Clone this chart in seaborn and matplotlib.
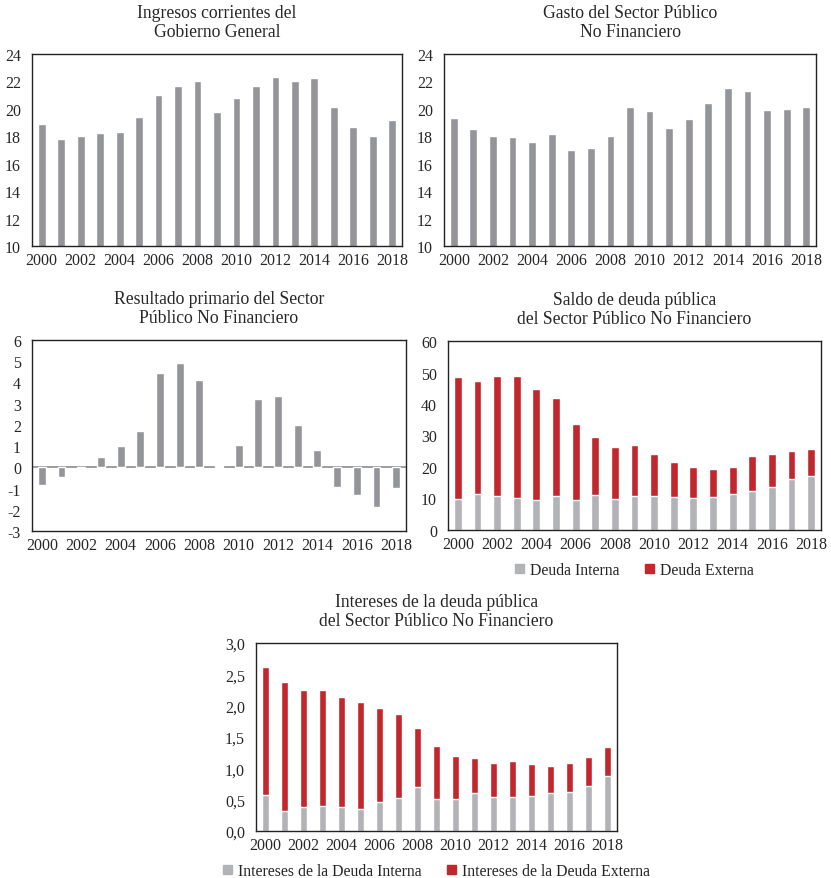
import numpy as np
import matplotlib.pyplot as plt
import seaborn as sns
from matplotlib.patches import Patch
from matplotlib.ticker import FuncFormatter

# data (% of GDP)
years = list(range(2000, 2019))
ingresos = [18.9, 17.8, 18.0, 18.25, 18.3, 19.4, 21.0, 21.7, 22.0, 19.8, 20.8,
            21.7, 22.3, 22.05, 22.25, 20.1, 18.65, 18.05, 19.2]
gasto = [19.3, 18.55, 18.05, 17.95, 17.6, 18.2, 17.0, 17.15, 18.05, 20.1, 19.85,
         18.6, 19.25, 20.45, 21.55, 21.3, 19.9, 20.0, 20.15]
resultado = [-0.83, -0.47, -0.05, 0.47, 1.0, 1.72, 4.43, 4.9, 4.12, 0.05, 1.03,
             3.23, 3.36, 1.98, 0.8, -0.91, -1.3, -1.85, -0.99]
deuda_interna = [10.0, 11.3, 10.8, 10.3, 9.4, 10.8, 9.4, 11.0, 10.0, 10.8, 10.8,
                 10.5, 10.3, 10.5, 11.3, 12.4, 13.8, 16.3, 17.2]
deuda_externa = [38.6, 36.1, 38.2, 38.7, 35.4, 31.0, 24.4, 18.5, 16.3, 16.2, 13.2,
                 11.1, 9.7, 9.0, 8.7, 11.1, 10.2, 8.8, 8.6]
int_interna = [0.58, 0.32, 0.39, 0.40, 0.39, 0.35, 0.46, 0.53, 0.70, 0.51, 0.51,
               0.61, 0.55, 0.55, 0.56, 0.61, 0.63, 0.72, 0.87]
int_externa = [2.03, 2.05, 1.86, 1.85, 1.75, 1.71, 1.51, 1.34, 0.95, 0.84, 0.68,
               0.55, 0.53, 0.56, 0.51, 0.43, 0.45, 0.46, 0.47]

GRAY = "#939598"
LGRAY = "#b1b3b6"
RED = "#c1272d"

sns.set_style("white")
plt.rcParams["font.family"] = ["Liberation Serif", "DejaVu Serif"]
plt.rcParams["axes.unicode_minus"] = False

W, H = 831, 879
fig = plt.figure(figsize=(W / 100, H / 100), dpi=100)


def make_ax(l, t, r, b):
    return fig.add_axes([l / W, 1 - b / H, (r - l) / W, (b - t) / H])


def style(ax, title, ylim, step):
    ax.set_ylim(*ylim)
    ax.set_yticks(np.arange(ylim[0], ylim[1] + step / 2, step))
    ax.set_xlim(-0.5, 18.5)
    ax.set_xticks(range(0, 19, 2))
    ax.set_xticklabels([str(y) for y in years[::2]])
    ax.set_xlabel("")
    ax.set_ylabel("")
    ax.tick_params(length=0, labelsize=11.5, pad=4)
    ax.tick_params(axis="y", pad=8)
    for s in ax.spines.values():
        s.set_color("#222222")
        s.set_linewidth(1.0)
    ax.set_title(title, fontsize=12.7, linespacing=1.15, pad=13)


def add_legend(ax, labels):
    ax.legend(handles=[Patch(color=LGRAY, label=labels[0]),
                       Patch(color=RED, label=labels[1])],
              loc="upper center", bbox_to_anchor=(0.5, -0.12), ncol=2, frameon=False,
              handlelength=0.55, handleheight=0.55, handletextpad=0.4,
              columnspacing=1.6, fontsize=11.3, borderaxespad=0.2)


# 1 - ingresos
ax1 = make_ax(32, 55, 402, 247)
sns.barplot(x=years, y=ingresos, color=GRAY, saturation=1, width=0.4, ax=ax1)
style(ax1, "Ingresos corrientes del\nGobierno General", (10, 24), 2)

# 2 - gasto
ax2 = make_ax(444, 55, 816, 247)
sns.barplot(x=years, y=gasto, color=GRAY, saturation=1, width=0.4, ax=ax2)
style(ax2, "Gasto del Sector Público\nNo Financiero", (10, 24), 2)

# 3 - resultado primario
ax3 = make_ax(32, 341, 406, 532)
sns.barplot(x=years, y=resultado, color=GRAY, saturation=1, width=0.4, ax=ax3)
ax3.axhline(0, color="#8a8c8e", lw=1.2, zorder=0.5)
style(ax3, "Resultado primario del Sector\nPúblico No Financiero", (-3, 6), 1)

# 4 - saldo de deuda
ax4 = make_ax(448, 342, 821, 531)
total4 = np.array(deuda_interna) + np.array(deuda_externa)
sns.barplot(x=years, y=total4, color=RED, saturation=1, width=0.4, ax=ax4)
sns.barplot(x=years, y=deuda_interna, color=LGRAY, saturation=1, width=0.4, ax=ax4)
style(ax4, "Saldo de deuda pública\ndel Sector Público No Financiero", (0, 60), 10)
add_legend(ax4, ["Deuda Interna", "Deuda Externa"])

# 5 - intereses
ax5 = make_ax(256, 644, 617, 832)
total5 = np.array(int_interna) + np.array(int_externa)
sns.barplot(x=years, y=total5, color=RED, saturation=1, width=0.4, ax=ax5)
sns.barplot(x=years, y=int_interna, color=LGRAY, saturation=1, width=0.4, ax=ax5)
style(ax5, "Intereses de la deuda pública\ndel Sector Público No Financiero", (0, 3), 0.5)
ax5.yaxis.set_major_formatter(FuncFormatter(lambda v, p: f"{v:.1f}".replace(".", ",")))
add_legend(ax5, ["Intereses de la Deuda Interna", "Intereses de la Deuda Externa"])

fig.savefig("out.png", dpi=100)
